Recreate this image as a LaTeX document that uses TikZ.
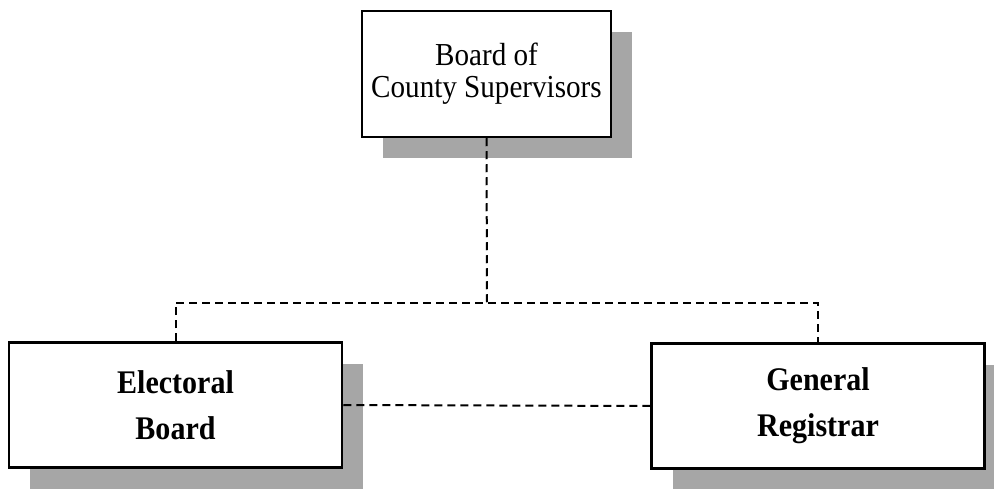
\documentclass[tikz,border=0pt]{standalone}
\usepackage{fontspec}
\setmainfont{Liberation Serif}
\newfontfamily\boxfont[FakeStretch=0.91]{Liberation Serif}
\usetikzlibrary{shadows}
\begin{document}
\begin{tikzpicture}[x=1pt,y=-1pt,
  boxsh/.style={draw=black, line width=2.5pt, fill=white, align=center, inner sep=0pt,
    drop shadow={shadow xshift=21pt, shadow yshift=-21pt, fill=black!35, opacity=1}},
  topbox/.style={boxsh, minimum width=249pt, minimum height=126pt,
    font=\boxfont\fontsize{32}{32}\selectfont},
  lowbox/.style={boxsh, minimum width=333pt, minimum height=125pt,
    font=\boxfont\fontsize{33}{46}\selectfont\bfseries},
  conn/.style={line width=2pt, dash pattern=on 8pt off 5pt}]
\useasboundingbox (0,0) rectangle (994,489);
\node[topbox] (top) at (486.5,74) {Board of\\County Supervisors};
\node[lowbox] (eb) at (175.5,405) {Electoral\\Board};
\node[lowbox] (gr) at (818,406) {General\\Registrar};
\coordinate (j) at (487,303);
\draw[conn] (top.south) -- (j);
\draw[conn] (eb.north) |- (j) -| (gr.north);
\draw[conn] (eb.east) -- (gr.west);
\end{tikzpicture}
\end{document}
